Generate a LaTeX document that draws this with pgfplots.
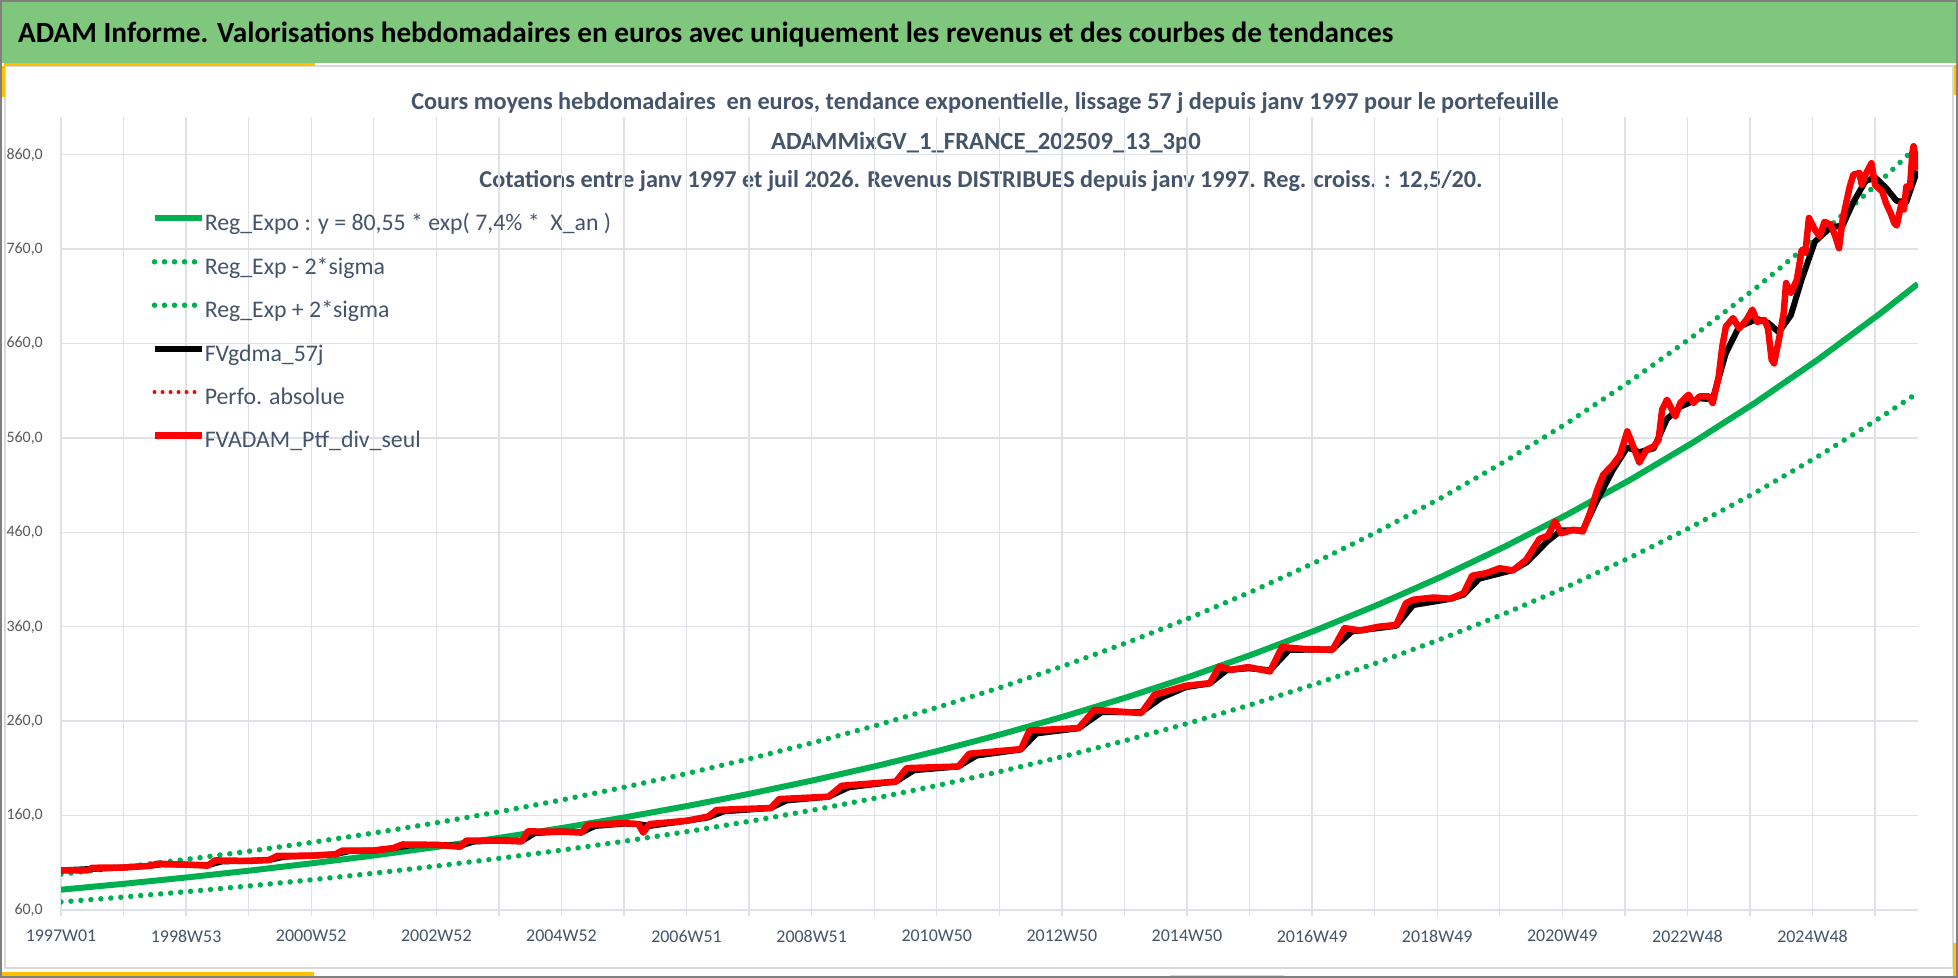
\documentclass[border=0pt]{standalone}
\usepackage{pgfplots}
\pgfplotsset{compat=1.18}
\usepackage{pgfplotstable}
\usepackage{fontspec}
\setmainfont{Carlito}
\definecolor{hdrgreen}{RGB}{126,199,124}
\definecolor{ygold}{RGB}{255,192,0}
\definecolor{slate}{RGB}{68,84,106}
\definecolor{gridc}{RGB}{222,226,232}
\definecolor{ylab}{RGB}{89,89,89}
\definecolor{gr}{RGB}{0,176,80}

\pgfplotstableread{
w reg lo hi
0 81.50 68.50 98.00
52.18 87.74 73.75 105.51
104.36 94.46 79.40 113.59
156.54 101.70 85.48 122.29
208.72 109.49 92.02 131.65
260.90 117.87 99.07 141.74
313.08 126.90 106.66 152.59
365.26 136.62 114.83 164.28
417.44 147.08 123.62 176.86
469.62 158.35 133.09 190.41
521.80 170.47 143.28 204.99
573.98 183.53 154.26 220.69
626.16 197.59 166.07 237.59
678.34 212.72 178.79 255.79
730.52 229.01 192.48 275.38
782.70 246.55 207.23 296.47
834.88 265.44 223.10 319.18
887.06 285.77 240.19 343.62
939.24 307.65 258.58 369.94
991.42 331.22 278.39 398.27
1043.60 356.59 299.71 428.78
1095.78 383.90 322.66 461.62
1147.96 413.30 347.37 496.97
1200.14 444.95 373.98 535.04
1252.32 479.03 402.62 576.02
1304.50 515.72 433.46 620.13
1356.68 555.22 466.66 667.63
1408.86 597.75 502.40 718.76
1461.04 643.53 540.88 773.81
1513.22 692.81 582.30 833.08
1543.50 723.20 607.80 869.60
}\trendtab

\pgfplotstableread{
w v
0 102
22 102
26 104.7
52 105
74 106.8
80 109
104 108
122 107
128 112.5
156 112
173 113
180 117.4
208 117.5
228 119
234 123
260 123
276 125.5
284 129.4
312 129
332 127
337 133.6
364 133.6
383 132.6
388 143.2
416 143
433 142
438 150.3
468 152
480 151
484 142
489 151
520 154.5
538 159
545 166
590 168
597 177.5
638 180
649 191.6
694 196
703 210.3
746 212
755 225.5
798 230.4
805 250
846 252.7
859 272
898 268.6
909 288
935 297.5
955 300.3
963 318
972 314.4
987 317.3
1005 312.7
1015 338.5
1035 336.3
1057 335.6
1067 358.6
1080 356
1095 360
1110 362
1118 385
1124 388.6
1141 391
1155 389.7
1166 395.7
1173 414
1185 416.9
1196 422
1207 419.7
1218 431
1229 453
1236 456.4
1242 471.6
1247 459
1257 462.8
1265 461
1271 480.4
1277 505
1282 521
1290 531.6
1296 542
1302 567
1307 551
1312 534
1318 547.5
1324 551
1328 558
1331 590
1335 600.5
1342 582.8
1346 597
1353 605.8
1357 597
1362 604
1370 604
1373 597
1378 625
1381 657
1384 678
1390 687
1395 676
1401 685
1406 696
1410 683
1416 685
1419 676
1422 643
1424 639
1428 664
1432 692
1434 724
1438 713.5
1443 727.6
1447 759
1450 756
1453 793
1458 780.6
1462 773.5
1466 789
1471 786
1475 773.5
1478 761
1481 791
1484 809
1487 826.5
1490 839
1495 840.6
1497 828
1500 839
1505 851
1508 828
1514 821
1517 809
1521 798
1524 787.6
1526 785
1530 809
1532 802
1534 826.5
1537 825
1539 862
1540 869
1542 854.7
1543 844
}\redtab

\pgfplotstableread{
w v
0 102
26 103.5
52 105
74 106.8
84 108.5
104 108
122 107.5
134 111.5
156 112
173 113
186 116.5
208 117.5
228 119
240 122.5
260 123
276 125.5
290 128.5
312 129
332 128
343 132.5
364 133.6
383 133
394 141.5
416 143
433 142.5
444 149
468 151.5
480 151
489 149
500 151
520 154.5
538 158
551 164.5
590 168
603 176
638 180
655 190
694 196
709 208
746 212
761 223.5
798 230
811 247
846 252.5
865 269.5
898 269.5
915 285
935 296
955 300
969 314
987 316
1005 314
1021 335.5
1057 336
1073 355
1110 361
1124 383
1155 389.5
1166 394
1179 411
1207 420
1218 428
1236 451
1247 462
1265 462
1277 494
1290 526
1302 550
1312 545
1324 549
1335 580
1346 593
1362 602
1373 601
1384 650
1395 678
1410 686
1419 682
1428 672
1438 690
1447 728
1458 768
1471 783
1481 785
1490 810
1500 832
1508 836
1517 825
1526 811
1534 810
1543 843
}\blacktab

\begin{document}
\begin{tikzpicture}[x=1bp,y=1bp]
\useasboundingbox (0,0) rectangle (1958,978);
\fill[white] (0,0) rectangle (1958,978);
% header band
\fill[hdrgreen] (0,915) rectangle (1958,978);
% inner panel frame
\draw[line width=1.5bp, color=gray!30] (5,10) rectangle (1953,912);
% yellow accents
\fill[ygold] (4,912) rectangle (315,915);
\fill[ygold] (0,881) rectangle (5,912);
\fill[ygold] (0,0) rectangle (314,6);
\fill[ygold!60] (1170,0) rectangle (1284,3);
\fill[ygold] (1953,1) rectangle (1958,35);
\fill[ygold] (1954,883) rectangle (1958,913);
% outer border
\draw[line width=2bp, color=gray] (1,1) rectangle (1957,977);
% title
\node[anchor=base west, inner sep=0pt, font=\fontsize{29.4}{34}\selectfont\bfseries, text=black] at (18,935.5) {ADAM Informe. Valorisations hebdomadaires en euros avec uniquement les revenus et des courbes de tendances};
% subtitles
\node[anchor=base, inner sep=0pt, font=\fontsize{24.4}{28}\selectfont\bfseries, text=slate] at (985,868.3) {Cours moyens hebdomadaires\ \ en euros, tendance exponentielle, lissage 57 j depuis janv 1997 pour le portefeuille};
\node[anchor=base, inner sep=0pt, font=\fontsize{24.8}{28}\selectfont\bfseries, text=slate] at (986,828.3) {ADAMMixGV\_1\_FRANCE\_202509\_13\_3p0};
\node[anchor=base, inner sep=0pt, font=\fontsize{24.3}{28}\selectfont\bfseries, text=slate] at (981,790.3) {Cotations entre janv 1997 et juil 2026. Revenus DISTRIBUES depuis janv 1997. Reg. croiss. : 12,5/20.};

\begin{axis}[
  at={(61bp,68bp)}, anchor=south west,
  width=1857bp, height=793bp, scale only axis,
  xmin=0, xmax=1543.7, ymin=60, ymax=900,
  axis line style={draw=none},
  grid=major,
  major grid style={color=gridc, line width=1.4bp},
  xtick={0,52,...,1508},
  xticklabels={1997W01,,1998W53,,2000W52,,2002W52,,2004W52,,2006W51,,2008W51,,2010W50,,2012W50,,2014W50,,2016W49,,2018W49,,2020W49,,2022W48,,2024W48,},
  xtick pos=bottom,
  tick align=outside,
  major tick length=6bp,
  xtick style={color=gridc, line width=1.4bp},
  ytick={60,160,...,860},
  yticklabels={{60,0},{160,0},{260,0},{360,0},{460,0},{560,0},{660,0},{760,0},{860,0}},
  ytick style={draw=none},
  xticklabel style={font=\fontsize{18}{21}\selectfont, text=slate, inner sep=0pt, anchor=north, yshift=-14bp},
  yticklabel style={font=\fontsize{16}{19}\selectfont, text=ylab, inner sep=0pt, anchor=east, xshift=-12bp},
  legend cell align=left,
  legend image code/.code={\draw[#1] (0bp,7bp) -- (47bp,7bp);},
  legend style={at={(axis description cs:0.0485,0.878)}, anchor=north west, draw=none, fill=none,
    font=\fontsize{23.9}{28}\selectfont, text=slate, inner sep=0pt, row sep=20.4bp,
    nodes={inner sep=0pt, text height=17bp, text depth=6bp},
    /tikz/every odd column/.append style={column sep=0bp}},
]
\addplot[color=gr, line width=6bp] table[x=w, y=reg] {\trendtab};
\addlegendentry{Reg\_Expo : y = 80,55 * exp( 7,4\% *\ \ X\_an )}
\addplot[color=gr, line width=5.5bp, line cap=round, dash pattern=on 0bp off 10bp] table[x=w, y=lo] {\trendtab};
\addlegendentry{Reg\_Exp - 2*sigma}
\addplot[color=gr, line width=5.5bp, line cap=round, dash pattern=on 0bp off 10bp] table[x=w, y=hi] {\trendtab};
\addlegendentry{Reg\_Exp + 2*sigma}
\addplot[color=black, line width=6bp, line join=round] table[x=w, y=v] {\blacktab};
\addlegendentry{FVgdma\_57j}
\addplot[color=red, line width=4bp, line cap=round, dash pattern=on 0bp off 8bp] table[x=w, y=v] {\redtab};
\addlegendentry{Perfo. absolue}
\addplot[color=red, line width=6.5bp, line join=round] table[x=w, y=v] {\redtab};
\addlegendentry{FVADAM\_Ptf\_div\_seul}
\end{axis}
\end{tikzpicture}
\end{document}
